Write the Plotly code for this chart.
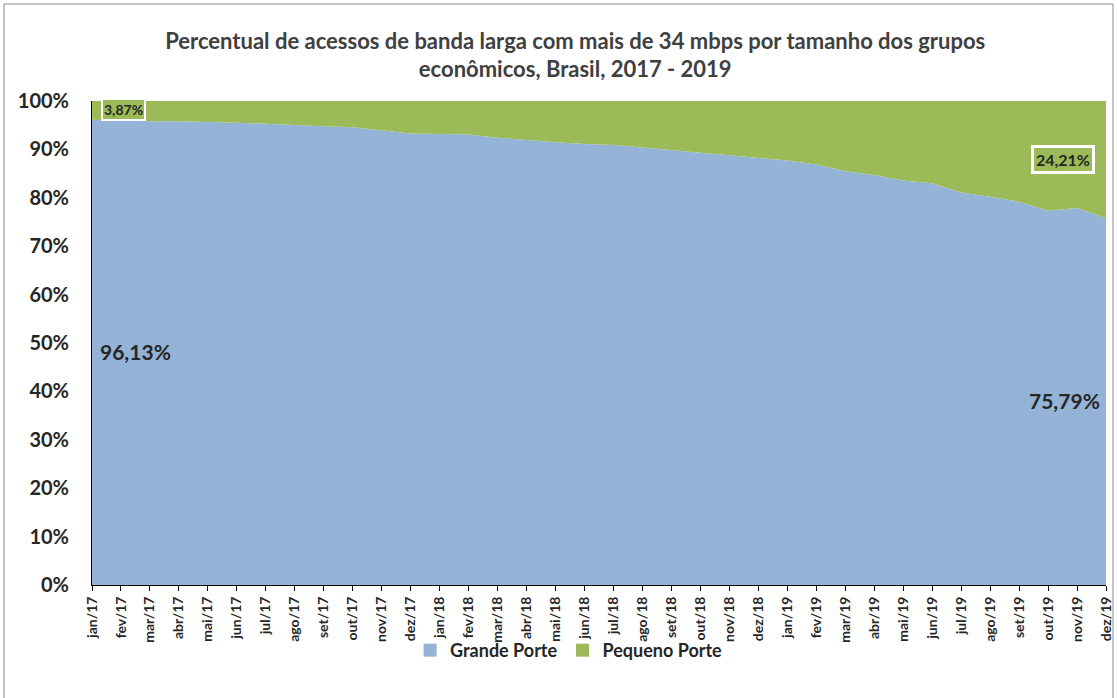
import plotly.graph_objects as go

months = ["jan/17","fev/17","mar/17","abr/17","mai/17","jun/17","jul/17","ago/17","set/17","out/17","nov/17","dez/17",
          "jan/18","fev/18","mar/18","abr/18","mai/18","jun/18","jul/18","ago/18","set/18","out/18","nov/18","dez/18",
          "jan/19","fev/19","mar/19","abr/19","mai/19","jun/19","jul/19","ago/19","set/19","out/19","nov/19","dez/19"]

grande = [96.13, 95.9, 95.8, 95.8, 95.7, 95.5, 95.3, 95.0, 94.8, 94.6, 94.0, 93.3,
          93.2, 93.1, 92.4, 91.9, 91.5, 91.1, 90.9, 90.4, 89.8, 89.3, 88.8, 88.3,
          87.7, 86.9, 85.5, 84.7, 83.6, 83.0, 81.1, 80.2, 79.2, 77.3, 77.9, 75.79]
pequeno = [3.87, 4.1, 4.2, 4.2, 4.3, 4.5, 4.7, 5.0, 5.2, 5.4, 6.0, 6.7,
           6.8, 6.9, 7.6, 8.1, 8.5, 8.9, 9.1, 9.6, 10.2, 10.7, 11.2, 11.7,
           12.3, 13.1, 14.5, 15.3, 16.4, 17.0, 18.9, 19.8, 20.8, 22.7, 22.1, 24.21]

BLUE = "#95B3D7"
GREEN = "#9BBB59"
TXT = "#262626"
FONT = "Lato"

def fmt(v):
    return f"{v:.2f}".replace(".", ",") + "%"

fig = go.Figure()
fig.add_trace(go.Scatter(x=months, y=grande, name="Grande Porte", stackgroup="a", showlegend=False,
                         mode="lines", line=dict(width=0, color=BLUE), fillcolor=BLUE))
fig.add_trace(go.Scatter(x=months, y=pequeno, name="Pequeno Porte", stackgroup="a", showlegend=False,
                         mode="lines", line=dict(width=0, color=GREEN), fillcolor=GREEN))
# legend entries with square swatches
for nm, col in [("Grande Porte", BLUE), ("Pequeno Porte", GREEN)]:
    fig.add_trace(go.Scatter(x=[None], y=[None], name=nm, mode="markers",
                             marker=dict(symbol="square", size=13, color=col)))

# data labels
fig.add_annotation(x=1.1, y=grande[0] + pequeno[0] / 2 + 0.1, xref="x", yref="y", text=fmt(pequeno[0]),
                   showarrow=False, font=dict(family=FONT, size=14, color=TXT, weight="bold"),
                   bgcolor=GREEN, bordercolor="white", borderwidth=2, borderpad=1)
fig.add_annotation(x=33.5, y=88.0, xref="x", yref="y", text=fmt(pequeno[-1]),
                   showarrow=False, font=dict(family=FONT, size=16, color=TXT, weight="bold"),
                   bgcolor=GREEN, bordercolor="white", borderwidth=3, borderpad=2)
fig.add_annotation(x=0.2, y=48.3, xref="x", yref="y", text=fmt(grande[0]), xanchor="left",
                   showarrow=False, font=dict(family=FONT, size=21, color=TXT, weight="bold"))
fig.add_annotation(x=34.85, y=38.2, xref="x", yref="y", text=fmt(grande[-1]), xanchor="right",
                   showarrow=False, font=dict(family=FONT, size=21, color=TXT, weight="bold"))

# outer chart border
fig.add_shape(type="rect", xref="paper", yref="paper", x0=-0.0868, x1=1.0069, y0=-0.25, y1=1.2004,
              line=dict(color="#8c8c8c", width=1), fillcolor="rgba(0,0,0,0)", layer="below")

fig.update_layout(
    width=1117, height=698,
    margin=dict(l=92, r=11, t=101, b=113, autoexpand=False),
    paper_bgcolor="white", plot_bgcolor="white",
    title=dict(text="Percentual de acessos de banda larga com mais de 34 mbps por tamanho dos grupos<br>econômicos, Brasil, 2017 - 2019",
               x=0.515, xanchor="center", y=0.93, yanchor="middle",
               font=dict(family=FONT, size=22, color="#404040", weight="bold")),
    legend=dict(orientation="h", x=0.47, xanchor="center", y=-0.097, yanchor="top",
                bgcolor="rgba(0,0,0,0)",
                font=dict(family=FONT, size=18, color=TXT, weight="bold"),
                traceorder="normal", itemwidth=30),
    showlegend=True,
)
fig.update_xaxes(type="category", range=[0, len(months) - 1], tickangle=-90, automargin=False,
                 showline=True, linecolor="black", linewidth=1,
                 ticks="outside", ticklen=5, tickcolor="black", showgrid=False,
                 tickfont=dict(family=FONT, size=14, color=TXT, weight="bold"))
fig.update_yaxes(range=[0, 100], dtick=10, ticksuffix="%", showgrid=False, automargin=False,
                 showline=True, linecolor="black", linewidth=1, zeroline=False,
                 tickfont=dict(family=FONT, size=20, color=TXT, weight="bold"), ticklabelstandoff=18)

fig.write_html("out.html", config={"displayModeBar": False},
               post_script="document.body.style.margin='0px';")
